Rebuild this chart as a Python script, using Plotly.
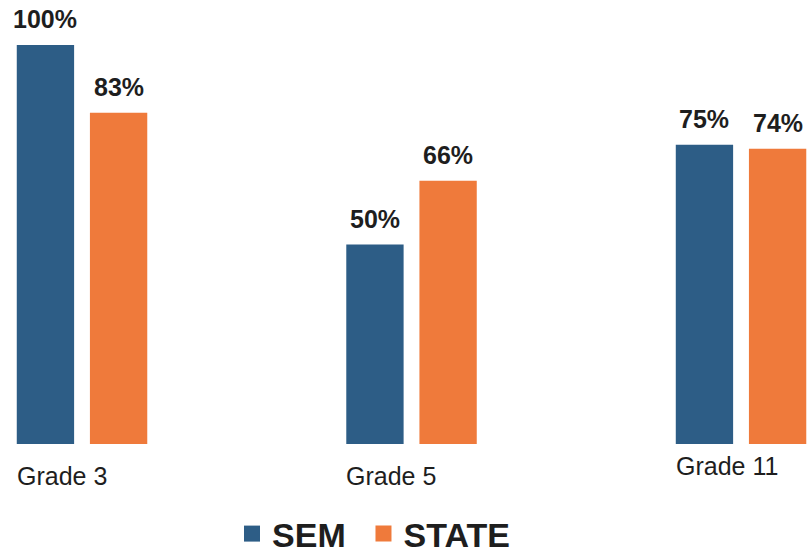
import plotly.graph_objects as go

categories = ["Grade 3", "Grade 5", "Grade 11"]
sem_values = [100, 50, 75]
state_values = [83, 66, 74]
series_names = ["SEM", "STATE"]

SEM_COLOR = "#2d5d86"
STATE_COLOR = "#ef7a3b"
TEXT_COLOR = "#1e1e1e"
FONT = "Liberation Sans, Arial, sans-serif"

bar_width = 0.174
sem_offset = -0.198
state_offset = 0.024
label_yshift = [-32, -32, -22]

idx = list(range(len(categories)))

fig = go.Figure()
fig.add_trace(go.Bar(x=idx, y=sem_values, width=bar_width, offset=sem_offset,
                     marker=dict(color=SEM_COLOR, line=dict(width=0)),
                     name=series_names[0], showlegend=False, hoverinfo="skip"))
fig.add_trace(go.Bar(x=idx, y=state_values, width=bar_width, offset=state_offset,
                     marker=dict(color=STATE_COLOR, line=dict(width=0)),
                     name=series_names[1], showlegend=False, hoverinfo="skip"))
# legend proxies (one legend each, for exact spacing)
fig.add_trace(go.Scatter(x=[None], y=[None], mode="markers", name=series_names[0],
                         legend="legend",
                         marker=dict(symbol="square", size=16, color=SEM_COLOR)))
fig.add_trace(go.Scatter(x=[None], y=[None], mode="markers", name=series_names[1],
                         legend="legend2",
                         marker=dict(symbol="square", size=16, color=STATE_COLOR)))

annotations = []
for i, (s, t) in enumerate(zip(sem_values, state_values)):
    for val, off in ((s, sem_offset), (t, state_offset)):
        annotations.append(dict(x=i + off + bar_width / 2, y=val, xref="x", yref="y",
                                text=f"{val}%", showarrow=False, yanchor="middle",
                                yshift=26,
                                font=dict(family=FONT, size=25, color=TEXT_COLOR, weight="bold")))
    annotations.append(dict(x=i + sem_offset, y=0, xref="x", yref="y", text=categories[i],
                            showarrow=False, xanchor="left", yanchor="middle",
                            xshift=-2, yshift=label_yshift[i],
                            font=dict(family=FONT, size=25, color=TEXT_COLOR)))

legend_style = dict(orientation="h", xanchor="left", y=-0.2027, yanchor="middle",
                    font=dict(family=FONT, size=34, color=TEXT_COLOR, weight="bold"),
                    itemsizing="trace", bgcolor="rgba(0,0,0,0)")

fig.update_layout(
    width=809, height=556,
    margin=dict(l=0, r=0, t=0, b=112, autoexpand=False),
    paper_bgcolor="white", plot_bgcolor="white",
    barmode="overlay",
    xaxis=dict(range=[-0.2489, 2.2063], showticklabels=False, showgrid=False,
               zeroline=False, showline=False, ticks=""),
    yaxis=dict(range=[0, 111.28], showticklabels=False, showgrid=False,
               zeroline=False, showline=False, ticks=""),
    annotations=annotations,
    legend=dict(x=0.2868, **legend_style),
    legend2=dict(x=0.4493, **legend_style),
)

fig.write_html("out.html", config={"displayModeBar": False},
               post_script="document.body.style.margin='0';document.body.style.overflow='hidden';")
